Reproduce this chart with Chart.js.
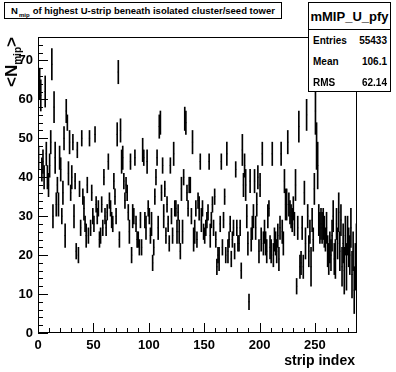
<!DOCTYPE html>
<html>
<head>
<meta charset="utf-8">
<script src="https://cdn.jsdelivr.net/npm/chart.js@4"></script>
<style>
  body { margin: 0; background: #fff; }
  #wrap { position: relative; width: 396px; height: 372px; font-family: "Liberation Sans", Arial, sans-serif; font-weight: bold; color: #000; }
  #c { position: absolute; left: 0; top: 0; }
  .box { position: absolute; border: 1px solid #000; background: #fff; box-sizing: border-box; }
  #title { left: 4px; top: 2px; width: 278px; height: 17px; font-size: 9.5px; line-height: 15px; text-align: center; }
  #title sub { font-size: 6px; vertical-align: -3px; margin: 0 3px 0 1px; }
  #stats { left: 308px; top: 2px; width: 83px; height: 90px; }
  #stats .head { height: 26px; border-bottom: 1px solid #000; font-size: 13px; line-height: 27px; text-align: center; }
  #stats .row { position: relative; height: 21px; line-height: 22px; font-size: 10px; }
  #stats .row span { position: absolute; }
  #stats .row .k { left: 4px; }
  #stats .row .v { right: 3px; }
  #ytitle { position: absolute; left: 12px; top: 37px; transform-origin: 0 0; transform: translate(-10px, 0) rotate(-90deg) translate(-100%, 0); font-size: 17px; white-space: nowrap; line-height: 20px; }
  #ytitle sub { font-size: 10px; vertical-align: -4px; }
  #xtitle { position: absolute; right: 41px; top: 352px; font-size: 14px; }
</style>
</head>
<body>
<div id="wrap">
  <canvas id="c" width="396" height="372"></canvas>
  <div class="box" id="title">N<sub>mip</sub>of highest U-strip beneath isolated cluster/seed tower</div>
  <div class="box" id="stats">
    <div class="head">mMIP_U_pfy</div>
    <div class="row"><span class="k">Entries</span><span class="v">55433</span></div>
    <div class="row"><span class="k">Mean</span><span class="v">106.1</span></div>
    <div class="row"><span class="k">RMS</span><span class="v">62.14</span></div>
  </div>
  <div id="ytitle">&lt;N<sub>mip</sub>&gt;</div>
  <div id="xtitle">strip index</div>
</div>
<script>
// mean N_mip per strip (bin i covers strip index i..i+1)
const stripValues = [
  45,64,61,42,44,40,62,46,40,38,
  43,49,69,30,58,45,33,38,33,45,
  42,30,36,50,25,57,54,41,49,36,
  40,49,30,39,21,47,20,37,27,50,
  35,32,28,25,38,25,50,27,36,30,
  28,51,33,30,32,24,25,33,27,40,
  30,27,31,44,34,32,29,28,39,35,
  30,51,67,24,52,44,45,39,34,38,
  36,31,26,44,20,30,30,45,28,24,
  24,22,29,22,47,45,29,27,44,32,
  30,25,28,18,22,35,40,45,27,53,
  54,36,43,30,37,25,33,28,23,43,
  30,25,46,32,32,26,31,26,21,37,
  26,40,55,54,36,32,38,38,30,49,
  24,26,32,24,34,32,44,29,32,26,
  25,27,29,31,44,25,29,33,27,35,
  24,17,20,19,28,44,22,29,35,20,
  46,21,24,28,19,24,27,21,42,27,
  23,23,27,16,47,38,43,38,30,23,
  8,39,24,27,30,39,27,33,40,21,
  38,24,46,23,26,23,21,30,32,22,
  21,46,20,24,23,21,25,19,27,46,
  26,23,39,33,33,49,33,31,30,29,
  32,28,38,12,27,53,17,18,27,17,
  36,23,56,30,21,26,17,29,24,37,
  57,48,43,29,27,28,27,28,26,24,
  27,21,19,22,20,25,30,19,19,28,
  23,31,21,29,17,23,16,25,17,25,
  22,20,27,15,21,11,17,22
];
// error on the mean (half length of the bar)
const stripErrors = [
  3,4,4,3,3,3,4,3,3,3,
  3,3,4,3,4,4,3,2,3,3,
  3,2,3,3,3,3,2,3,3,2,
  3,2,3,2,2,2,2,2,2,2,
  2,3,2,3,2,2,2,2,2,2,
  2,2,2,2,2,2,2,2,2,2,
  2,2,2,2,2,2,2,2,2,2,
  2,3,3,2,3,3,3,2,2,2,
  2,2,3,2,2,3,2,2,2,2,
  2,2,2,2,3,2,2,3,3,2,
  2,2,3,2,2,2,2,2,3,3,
  3,2,2,3,2,2,2,2,2,2,
  2,2,3,2,2,3,2,3,2,3,
  3,2,3,3,2,2,2,2,2,3,
  3,3,2,2,2,3,2,3,2,2,
  2,2,2,2,2,3,2,2,2,2,
  2,2,2,3,2,2,2,2,2,2,
  3,3,2,2,2,2,2,2,2,2,
  2,2,2,2,4,3,3,4,3,3,
  2,3,3,3,3,3,3,3,3,3,
  3,3,3,3,3,3,3,3,2,3,
  3,3,3,3,3,3,3,3,3,3,
  3,3,3,4,4,3,3,3,3,3,
  3,3,4,2,3,4,3,3,3,3,
  3,4,4,3,4,3,5,3,3,4,
  6,6,6,4,4,4,4,4,4,3,
  4,4,4,4,4,4,4,4,5,4,
  4,5,5,4,5,5,6,5,6,5,
  5,5,5,6,5,6,6,6
];
const xMajorTicks = [0, 50, 100, 150, 200, 250];
const yMajorTicks = [0, 10, 20, 30, 40, 50, 60, 70];
const xMax = 288;
const yMax = 76;

const errBars = stripValues.map((v, i) => ({x: i + 0.5, y: [v - stripErrors[i], v + stripErrors[i]]}));
const centres = stripValues.map((v, i) => ({x: i + 0.5, y: v}));

// ROOT style frame with inward ticks
const frameTicks = {
  id: 'frameTicks',
  afterDatasetsDraw(chart) {
    const {ctx, chartArea: a, scales: {x, y}} = chart;
    ctx.save();
    ctx.strokeStyle = '#000';
    ctx.lineWidth = 1;
    ctx.strokeRect(a.left + 0.5, a.top + 0.5, a.right - a.left - 1, a.bottom - a.top - 1);
    ctx.beginPath();
    for (let v = 0; v <= yMax; v += 2) {
      const py = Math.round(y.getPixelForValue(v)) + 0.5;
      const len = yMajorTicks.includes(v) ? 10 : 5;
      ctx.moveTo(a.left, py); ctx.lineTo(a.left + len, py);
    }
    for (let v = 0; v <= xMax; v += 10) {
      const px = Math.round(x.getPixelForValue(v)) + 0.5;
      const len = xMajorTicks.includes(v) ? 10 : 5;
      ctx.moveTo(px, a.bottom); ctx.lineTo(px, a.bottom - len);
    }
    ctx.stroke();
    ctx.restore();
  }
};

const tickFont = {family: 'Liberation Sans', weight: 'bold', size: 13};

new Chart(document.getElementById('c'), {
  type: 'bar',
  data: {
    datasets: [
      {
        type: 'bar',
        data: errBars,
        backgroundColor: '#000',
        borderWidth: 0,
        barThickness: 1,
        grouped: false
      },
      {
        type: 'scatter',
        data: centres,
        pointStyle: 'line',
        radius: 0.6,
        borderColor: '#000',
        borderWidth: 1
      }
    ]
  },
  options: {
    responsive: false,
    animation: false,
    layout: {padding: {top: 37, right: 39, left: 0, bottom: 0}},
    plugins: {legend: {display: false}, tooltip: {enabled: false}},
    scales: {
      x: {
        type: 'linear',
        min: 0,
        max: xMax,
        offset: false,
        border: {display: false},
        grid: {display: false, drawTicks: false},
        ticks: {stepSize: 50, includeBounds: false, maxRotation: 0, padding: 5, color: '#000', font: tickFont},
        afterFit: s => { s.height = 39; }
      },
      y: {
        min: 0,
        max: yMax,
        border: {display: false},
        grid: {display: false, drawTicks: false},
        ticks: {stepSize: 10, includeBounds: false, padding: 5, color: '#000', font: tickFont},
        afterFit: s => { s.width = 38; }
      }
    }
  },
  plugins: [frameTicks]
});
</script>
</body>
</html>
